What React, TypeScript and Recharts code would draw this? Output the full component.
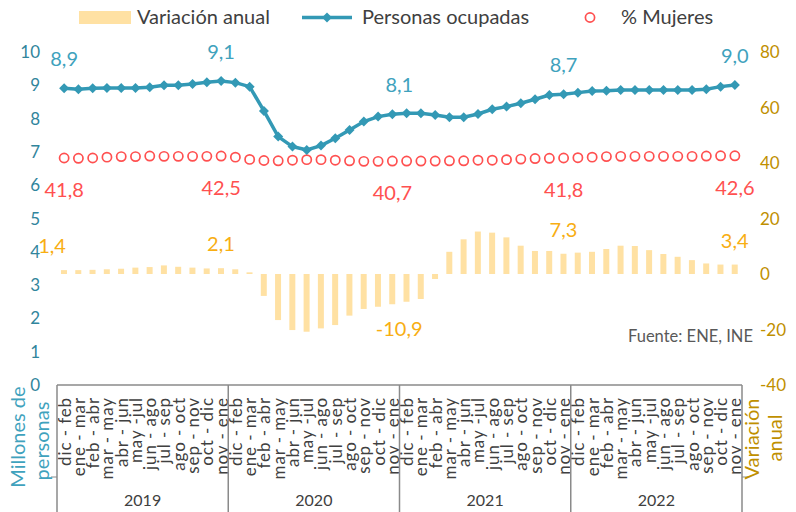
import React from "react";
import {
  ComposedChart,
  Bar,
  Line,
  Scatter,
  XAxis,
  YAxis,
  Legend,
  LabelList,
} from "recharts";

const years = ["2019", "2020", "2021", "2022"];
const periods = [
  "dic - feb", "ene - mar", "feb - abr", "mar - may", "abr - jun", "may -jul",
  "jun - ago", "jul - sep", "ago - oct", "sep - nov", "oct - dic", "nov - ene",
];

// millones de personas ocupadas
const ocupados = [
  8.91, 8.88, 8.91, 8.92, 8.92, 8.92, 8.94, 9.0, 9.0, 9.04, 9.09, 9.13,
  9.08, 8.96, 8.23, 7.46, 7.16, 7.06, 7.19, 7.41, 7.66, 7.91, 8.06, 8.13,
  8.16, 8.16, 8.11, 8.04, 8.04, 8.14, 8.28, 8.36, 8.46, 8.58, 8.71, 8.73,
  8.78, 8.83, 8.84, 8.86, 8.86, 8.86, 8.86, 8.86, 8.86, 8.88, 8.96, 9.01,
];

// variación anual (%)
const variacion = [
  1.4, 1.4, 1.5, 1.7, 1.9, 2.3, 2.5, 3.1, 2.6, 2.3, 2.0, 2.1,
  1.7, 0.6, -7.9, -16.6, -20.2, -20.8, -19.6, -18.4, -15.0, -12.6, -11.8, -10.9,
  -10.0, -9.0, -1.8, 8.0, 12.5, 15.3, 14.9, 13.2, 10.2, 8.3, 8.3, 7.3,
  7.7, 8.0, 9.0, 10.2, 10.1, 8.6, 7.2, 6.2, 5.0, 3.8, 3.4, 3.4,
];

// % mujeres
const mujeres = [
  41.8, 41.7, 41.8, 42.1, 42.3, 42.3, 42.5, 42.4, 42.4, 42.4, 42.4, 42.5,
  42.1, 41.3, 40.9, 40.8, 41.0, 41.2, 41.2, 41.0, 40.8, 40.6, 40.6, 40.7,
  40.7, 40.7, 40.7, 40.8, 40.8, 41.0, 41.0, 41.2, 41.4, 41.6, 41.7, 41.8,
  41.9, 42.1, 42.3, 42.4, 42.4, 42.4, 42.4, 42.4, 42.4, 42.5, 42.6, 42.6,
];

const labeled = [0, 11, 23, 35, 47];

const data = ocupados.map((v, i) => ({
  idx: i,
  periodo: periods[i % 12],
  year: years[Math.floor(i / 12)],
  ocupados: v,
  variacion: variacion[i],
  mujeres: mujeres[i],
}));

const W = 796;
const H = 512;
const LEFT_W = 57;
const RIGHT_W = 54;
const BW = (W - LEFT_W - RIGHT_W) / data.length;

const FONT = "Lato, 'Open Sans', sans-serif";
const TEAL = "#3399B5";
const TEAL_LABEL = "#3FA2BD";
const RED = "#FF5050";
const ORANGE = "#F8AE12";
const BAR = "#FFE1A3";
const GOLD = "#BF8F00";
const AXIS_TEAL = "#31859C";
const GRID = "#8A8A8A";

const fmt = (v: number) => v.toFixed(1).replace(".", ",");

function CategoryTick(props: any) {
  const { x, y, payload } = props;
  const i = props.index ?? payload.index;
  const row = data[i];
  if (!row) return null;
  const ty = y + 12;
  return (
    <g>
      <text
        x={x}
        y={ty}
        dy="0.38em"
        transform={`rotate(-90, ${x}, ${ty})`}
        textAnchor="end"
        fontSize={17}
        letterSpacing={0.9}
        fontFamily={FONT}
        fill="#404040"
      >
        {row.periodo}
      </text>
      {i % 12 === 0 && (
        <>
          <line x1={x - BW / 2} x2={x - BW / 2} y1={y} y2={H} stroke={GRID} strokeWidth={1.5} />
          <text
            x={x - BW / 2 + 6 * BW}
            y={y + 121}
            textAnchor="middle"
            fontSize={16}
            fontFamily={FONT}
            fill="#404040"
          >
            {row.year}
          </text>
        </>
      )}
      {i === 0 && (
        <line x1={x - BW / 2 - 6} x2={x - BW / 2} y1={y + 92} y2={y + 92} stroke={GRID} strokeWidth={1} />
      )}
      {i === data.length - 1 && (
        <>
          <line x1={x + BW / 2} x2={x + BW / 2} y1={y} y2={H} stroke={GRID} strokeWidth={1.5} />
          <line x1={x + BW / 2} x2={x + BW / 2 + 6} y1={y + 92} y2={y + 92} stroke={GRID} strokeWidth={1} />
        </>
      )}
    </g>
  );
}

function Diamond(props: any) {
  const { cx, cy } = props;
  if (cx == null || cy == null) return null;
  const r = 5;
  return (
    <polygon
      points={`${cx},${cy - r} ${cx + r},${cy} ${cx},${cy + r} ${cx - r},${cy}`}
      fill={TEAL}
    />
  );
}

function LineLabel(props: any) {
  const { x, y, value, index } = props;
  if (!labeled.includes(index)) return null;
  const dx = index === 23 ? 7 : 0;
  return (
    <text x={x + dx} y={y - 22} textAnchor="middle" fontSize={20} fontFamily={FONT} fill={TEAL_LABEL}>
      {fmt(value)}
    </text>
  );
}

function BarLabel(props: any) {
  const { x, y, width, height, value, index } = props;
  if (!labeled.includes(index)) return null;
  const top = Math.min(y, y + height);
  const bottom = Math.max(y, y + height);
  const cx = x + width / 2 + (index === 0 ? -12 : index === 23 ? 7 : 0);
  const ty = value >= 0 ? top - 17 : bottom + 32;
  return (
    <text x={cx} y={ty} textAnchor="middle" fontSize={20} fontFamily={FONT} fill={ORANGE}>
      {fmt(value)}
    </text>
  );
}

function Ring(props: any) {
  const { cx, cy, payload } = props;
  const i = payload?.idx;
  return (
    <g>
      <circle cx={cx} cy={cy} r={4.6} fill="#fff" stroke={RED} strokeWidth={1.7} />
      {labeled.includes(i) && (
        <text x={cx} y={cy + 39} textAnchor="middle" fontSize={20} fontFamily={FONT} fill={RED}>
          {fmt(payload.mujeres)}
        </text>
      )}
    </g>
  );
}

function LegendBox() {
  const txt = { fontSize: 20, fontFamily: FONT, fill: "#404040" } as const;
  return (
    <svg width={W} height={35} style={{ display: "block" }}>
      <rect x={79} y={11} width={52} height={13} fill={BAR} />
      <text x={137} y={24} {...txt}>Variación anual</text>
      <line x1={302} x2={352} y1={17.5} y2={17.5} stroke={TEAL} strokeWidth={3.5} />
      <polygon points="327,12.5 332,17.5 327,22.5 322,17.5" fill={TEAL} />
      <text x={362} y={24} {...txt}>Personas ocupadas</text>
      <circle cx={590} cy={17.5} r={4.6} fill="#fff" stroke={RED} strokeWidth={1.7} />
      <text x={621} y={24} {...txt}>% Mujeres</text>
    </svg>
  );
}

export default function App() {
  return (
    <div style={{ position: "absolute", left: 0, top: 0, width: W, height: H, background: "#fff" }}>
      <ComposedChart
        width={W}
        height={H}
        data={data}
        margin={{ top: 17, right: 0, bottom: 0, left: 0 }}
        barCategoryGap={0}
      >
        <Legend
          verticalAlign="top"
          align="left"
          height={35}
          content={() => <LegendBox />}
          wrapperStyle={{ top: 0, left: 0, width: W, height: 35 }}
        />
        <XAxis
          dataKey="periodo"
          xAxisId={0}
          interval={0}
          height={H - 385}
          tick={<CategoryTick />}
          tickLine={false}
          tickSize={0}
          tickMargin={0}
          axisLine={{ stroke: GRID, strokeWidth: 1.5 }}
        />
        <YAxis
          yAxisId="left"
          domain={[0, 10]}
          ticks={[0, 1, 2, 3, 4, 5, 6, 7, 8, 9, 10]}
          width={LEFT_W}
          axisLine={false}
          tickLine={false}
          tickSize={0}
          tickMargin={17}
          tick={{ fill: AXIS_TEAL, fontSize: 17, fontFamily: FONT }}
        />
        <YAxis
          yAxisId="right"
          orientation="right"
          domain={[-40, 80]}
          ticks={[-40, -20, 0, 20, 40, 60, 80]}
          width={RIGHT_W}
          axisLine={false}
          tickLine={false}
          tickSize={0}
          tickMargin={18}
          tick={{ fill: GOLD, fontSize: 17, fontFamily: FONT }}
        />
        <Bar
          yAxisId="right"
          dataKey="variacion"
          name="Variación anual"
          fill={BAR}
          barSize={6}
          isAnimationActive={false}
        >
          <LabelList dataKey="variacion" content={<BarLabel />} />
        </Bar>
        <Line
          yAxisId="left"
          dataKey="ocupados"
          name="Personas ocupadas"
          stroke={TEAL}
          strokeWidth={3.5}
          dot={<Diamond />}
          activeDot={false}
          isAnimationActive={false}
        >
          <LabelList dataKey="ocupados" content={<LineLabel />} />
        </Line>
        <Scatter
          yAxisId="right"
          dataKey="mujeres"
          name="% Mujeres"
          shape={<Ring />}
          isAnimationActive={false}
        />
      </ComposedChart>
      <svg
        width={W}
        height={H}
        style={{ position: "absolute", left: 0, top: 0, pointerEvents: "none" }}
        fontFamily={FONT}
      >
        <text x={18} y={437} transform="rotate(-90, 18, 437)" textAnchor="middle" dy="0.35em" fontSize={20} fill={TEAL_LABEL}>
          Millones de
        </text>
        <text x={42} y={441} transform="rotate(-90, 42, 441)" textAnchor="middle" dy="0.35em" fontSize={20} fill={TEAL_LABEL}>
          personas
        </text>
        <text x={752} y={439} transform="rotate(-90, 752, 439)" textAnchor="middle" dy="0.35em" fontSize={20} fill={GOLD}>
          Variación
        </text>
        <text x={775} y={438} transform="rotate(-90, 775, 438)" textAnchor="middle" dy="0.35em" fontSize={20} fill={GOLD}>
          anual
        </text>
        <text x={753} y={342} textAnchor="end" fontSize={16.5} fill="#595959">
          Fuente: ENE, INE
        </text>
      </svg>
    </div>
  );
}
